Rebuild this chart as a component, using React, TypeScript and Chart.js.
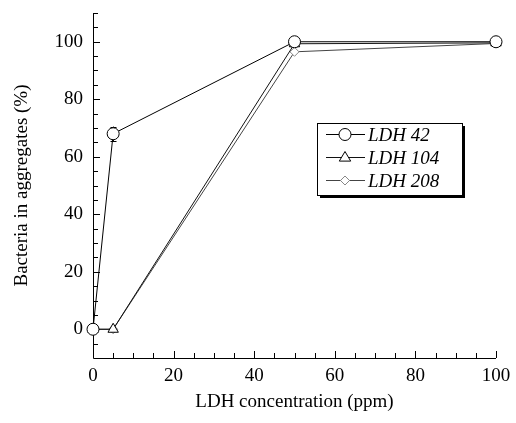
import React, { useEffect, useRef } from "react";
import { Chart, registerables } from "chart.js";

Chart.register(...registerables);

const concentrations = [0, 5, 50, 100];
const ldh42 = [0, 68, 100, 100];
const ldh42Err = [0, 2.5, 0, 0];
const ldh104 = [0, 0, 99.3, 99.6];
const ldh208 = [0, 0, 96.5, 99.4];
const seriesNames = ["LDH 42", "LDH 104", "LDH 208"];
const xTickValues = [0, 20, 40, 60, 80, 100];
const yTickValues = [0, 20, 40, 60, 80, 100];

const FONT = "'Liberation Serif', 'Times New Roman', serif";
const FS = 19;

function drawMarker(ctx: CanvasRenderingContext2D, kind: string, x: number, y: number, color: string) {
  ctx.save();
  ctx.fillStyle = "#fff";
  ctx.strokeStyle = color;
  ctx.lineWidth = 1;
  ctx.beginPath();
  if (kind === "circle") {
    ctx.arc(x, y, 6, 0, Math.PI * 2);
  } else if (kind === "triangle") {
    const r = 6;
    ctx.moveTo(x, y - r);
    ctx.lineTo(x + r * 0.95, y + r * 0.6);
    ctx.lineTo(x - r * 0.95, y + r * 0.6);
    ctx.closePath();
  } else {
    const r = 4.5;
    ctx.moveTo(x, y - r);
    ctx.lineTo(x + r, y);
    ctx.lineTo(x, y + r);
    ctx.lineTo(x - r, y);
    ctx.closePath();
  }
  ctx.fill();
  ctx.stroke();
  ctx.restore();
}

const axesPlugin = {
  id: "axesPlugin",
  beforeDatasetsDraw(chart: any) {
    const ctx = chart.ctx as CanvasRenderingContext2D;
    const { left, right, top, bottom } = chart.chartArea;
    const xs = chart.scales.x;
    const ys = chart.scales.y;
    ctx.save();
    ctx.strokeStyle = "#000";
    ctx.lineWidth = 1;
    ctx.beginPath();
    ctx.moveTo(left + 0.5, top);
    ctx.lineTo(left + 0.5, bottom + 0.5);
    ctx.lineTo(right, bottom + 0.5);
    ctx.stroke();
    for (let v = xs.min; v <= xs.max + 1e-6; v += 5) {
      const px = Math.round(xs.getPixelForValue(v)) + 0.5;
      const len = xTickValues.includes(v) ? 7 : 5;
      ctx.beginPath();
      ctx.moveTo(px, bottom);
      ctx.lineTo(px, bottom - len);
      ctx.stroke();
    }
    for (let v = -5; v <= ys.max + 1e-6; v += 5) {
      const py = Math.round(ys.getPixelForValue(v)) + 0.5;
      const len = yTickValues.includes(v) ? 7 : 5;
      ctx.beginPath();
      ctx.moveTo(left, py);
      ctx.lineTo(left + len, py);
      ctx.stroke();
    }
    ctx.strokeStyle = "#000";
    concentrations.forEach((c, i) => {
      const e = ldh42Err[i];
      if (!e) return;
      const px = Math.round(xs.getPixelForValue(c)) + 0.5;
      const y1 = ys.getPixelForValue(ldh42[i] + e);
      const y2 = ys.getPixelForValue(ldh42[i] - e);
      ctx.beginPath();
      ctx.moveTo(px, y1);
      ctx.lineTo(px, y2);
      ctx.moveTo(px - 3, Math.round(y1) + 0.5);
      ctx.lineTo(px + 3, Math.round(y1) + 0.5);
      ctx.moveTo(px - 3, Math.round(y2) + 0.5);
      ctx.lineTo(px + 3, Math.round(y2) + 0.5);
      ctx.stroke();
    });
    ctx.restore();
  },
  afterDraw(chart: any) {
    const ctx = chart.ctx as CanvasRenderingContext2D;
    const bx = 317, by = 123, bw = 145, bh = 72;
    ctx.save();
    ctx.fillStyle = "#000";
    ctx.fillRect(bx + 3, by + 3, bw, bh);
    ctx.fillStyle = "#fff";
    ctx.fillRect(bx, by, bw, bh);
    ctx.strokeStyle = "#000";
    ctx.lineWidth = 1;
    ctx.strokeRect(bx + 0.5, by + 0.5, bw, bh);
    const kinds = ["circle", "triangle", "diamond"];
    const lineColors = ["#000", "#111", "#444"];
    const markColors = ["#000", "#000", "#888"];
    seriesNames.forEach((name, i) => {
      const y = by + 11.5 + i * 23;
      ctx.strokeStyle = lineColors[i];
      ctx.beginPath();
      ctx.moveTo(bx + 9, y);
      ctx.lineTo(bx + 48, y);
      ctx.stroke();
      drawMarker(ctx, kinds[i], bx + 28, y, markColors[i]);
      ctx.fillStyle = "#000";
      ctx.font = `italic ${FS}px ${FONT}`;
      ctx.textBaseline = "middle";
      ctx.textAlign = "left";
      ctx.fillText(name, bx + 51, y + 1);
    });
    ctx.restore();
  },
};

export default function App() {
  const ref = useRef<HTMLCanvasElement | null>(null);
  useEffect(() => {
    document.body.style.margin = "0";
    const canvas = ref.current!;
    const mk = (ys: number[]) => concentrations.map((x, i) => ({ x, y: ys[i] }));
    const chart = new Chart(canvas, {
      type: "line",
      data: {
        datasets: [
          {
            label: seriesNames[0],
            data: mk(ldh42),
            borderColor: "#000",
            borderWidth: 1,
            pointStyle: "circle",
            pointRadius: 6,
            pointBackgroundColor: "#fff",
            pointBorderColor: "#000",
            pointBorderWidth: 1,
            tension: 0,
            clip: false as any,
          },
          {
            label: seriesNames[1],
            data: mk(ldh104),
            borderColor: "#111",
            borderWidth: 1,
            pointStyle: "triangle",
            pointRadius: 6,
            pointBackgroundColor: "#fff",
            pointBorderColor: "#000",
            pointBorderWidth: 1,
            tension: 0,
            clip: false as any,
          },
          {
            label: seriesNames[2],
            data: mk(ldh208),
            borderColor: "#444",
            borderWidth: 1,
            pointStyle: "rectRot",
            pointRadius: 4.5,
            pointBackgroundColor: "#fff",
            pointBorderColor: "#888",
            pointBorderWidth: 1,
            tension: 0,
            clip: false as any,
          },
        ],
      },
      options: {
        responsive: false,
        animation: false,
        layout: { padding: { top: 13, right: 20, left: 0, bottom: 0 } },
        plugins: { legend: { display: false }, tooltip: { enabled: false } },
        scales: {
          x: {
            type: "linear",
            min: 0,
            max: 100,
            grid: { display: false, drawTicks: false },
            border: { display: false },
            afterBuildTicks: (s: any) => {
              s.ticks = xTickValues.map((v) => ({ value: v }));
            },
            afterFit: (s: any) => {
              s.height = 65;
              s.paddingLeft = 0;
              s.paddingRight = 0;
            },
            ticks: {
              padding: 7,
              color: "#000",
              font: { family: FONT, size: FS },
              maxRotation: 0,
            },
            title: {
              display: true,
              text: "LDH concentration (ppm)",
              color: "#000",
              font: { family: FONT, size: FS },
              padding: { top: 0, bottom: 10 },
            },
          },
          y: {
            type: "linear",
            min: -10,
            max: 110,
            grid: { display: false, drawTicks: false },
            border: { display: false },
            afterBuildTicks: (s: any) => {
              s.ticks = yTickValues.map((v) => ({ value: v }));
            },
            afterFit: (s: any) => {
              s.width = 93;
              s.paddingTop = 0;
              s.paddingBottom = 0;
            },
            ticks: {
              padding: 10,
              color: "#000",
              font: { family: FONT, size: FS },
            },
            title: {
              display: true,
              text: "Bacteria in aggregates (%)",
              color: "#000",
              font: { family: FONT, size: FS },
              padding: { top: 11, bottom: 0 },
            },
          },
        },
      },
      plugins: [axesPlugin],
    });
    return () => chart.destroy();
  }, []);
  return (
    <div style={{ width: 516, height: 423 }}>
      <canvas ref={ref} width={516} height={423} style={{ display: "block" }} />
    </div>
  );
}
